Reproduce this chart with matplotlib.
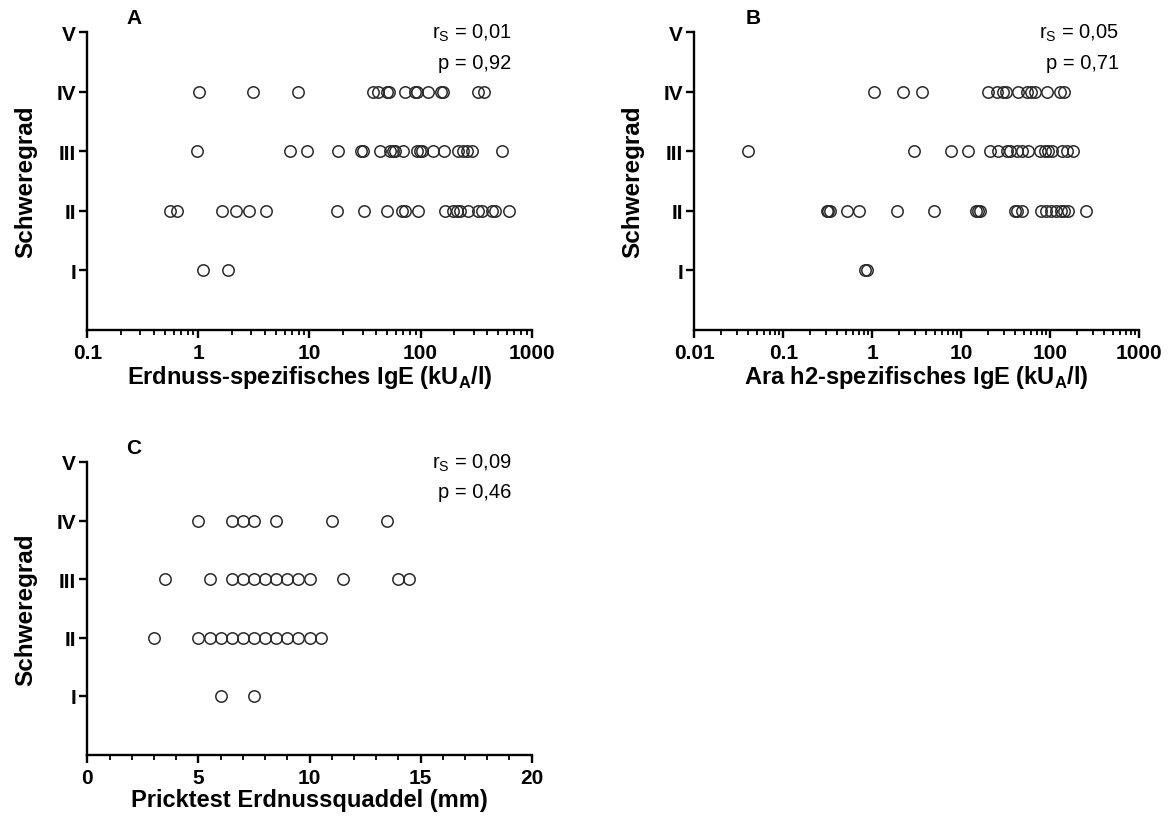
import matplotlib
matplotlib.use("Agg")
import matplotlib.pyplot as plt
from matplotlib.ticker import FixedLocator, LogLocator, NullFormatter, MultipleLocator

plt.rcParams['font.family'] = ['Liberation Sans', 'DejaVu Sans']
plt.rcParams['mathtext.fontset'] = 'custom'
plt.rcParams['mathtext.rm'] = 'Liberation Sans'
plt.rcParams['mathtext.bf'] = 'Liberation Sans:bold'

# ---------------- data ----------------
grade_labels = ['I', 'II', 'III', 'IV', 'V']
grade_pos = [1, 2, 3, 4, 5]

# Panel A: Erdnuss-spezifisches IgE (kU_A/l)
a_I = [1.1, 1.85]
a_II = [0.56, 0.64, 1.64, 2.18, 2.87, 4.1, 17.6, 31, 49.5, 67.6, 72.4, 95, 166, 197,
        211, 226, 269, 330, 355, 437, 468, 625]
a_III = [0.98, 6.7, 9.5, 18, 29, 30.5, 43, 53, 56, 59, 69, 93, 99, 104, 128, 163, 216,
         242, 262, 288, 537]
a_IV = [1.02, 3.1, 7.8, 37.5, 41.6, 49.5, 52.3, 72.4, 89, 93.5, 117, 153, 159, 330, 372]

# Panel B: Ara h2-spezifisches IgE (kU_A/l)
b_I = [0.82, 0.88]
b_II = [0.31, 0.32, 0.335, 0.52, 0.70, 1.91, 4.9, 14.6, 15.5, 16.2, 40.6, 42.8, 48.7,
        78.7, 89.5, 102, 117, 132, 143, 158, 252]
b_III = [0.040, 2.97, 7.7, 12, 21, 26, 32.4, 35.2, 41.9, 48.7, 56.6, 76.6, 87, 94, 104,
         135, 153, 181]
b_IV = [1.04, 2.24, 3.6, 19.7, 25.5, 29.2, 31.8, 43.4, 54.3, 60.7, 67.3, 91, 130, 141]

# Panel C: Pricktest Erdnussquaddel (mm)
c_I = [6, 7.5]
c_II = [3, 5, 5.5, 6, 6.5, 7, 7.5, 8, 8.5, 9, 9.5, 10, 10.5]
c_III = [3.5, 5.5, 6.5, 7, 7.5, 8, 8.5, 9, 9.5, 10, 11.5, 14, 14.5]
c_IV = [5, 6.5, 7, 7.5, 8.5, 11, 13.5]

a_stats = ['r$_\\mathrm{S}$ = 0,01', 'p = 0,92']
b_stats = ['r$_\\mathrm{S}$ = 0,05', 'p = 0,71']
c_stats = ['r$_\\mathrm{S}$ = 0,09', 'p = 0,46']

a_xticks = [0.1, 1, 10, 100, 1000]
a_xticklabels = ['0.1', '1', '10', '100', '1000']
b_xticks = [0.01, 0.1, 1, 10, 100, 1000]
b_xticklabels = ['0.01', '0.1', '1', '10', '100', '1000']
c_xticks = [0, 5, 10, 15, 20]
c_xticklabels = ['0', '5', '10', '15', '20']

a_xlabel = 'Erdnuss-spezifisches IgE (kU$_\\mathbf{A}$/l)'
b_xlabel = 'Ara h2-spezifisches IgE (kU$_\\mathbf{A}$/l)'
c_xlabel = 'Pricktest Erdnussquaddel (mm)'
ylabel = 'Schweregrad'

# ---------------- figure ----------------
W, H = 1170, 828
fig = plt.figure(figsize=(W / 100, H / 100), dpi=100)


def px_axes(x0, x1, ytop, ybot):
    return fig.add_axes([x0 / W, 1 - ybot / H, (x1 - x0) / W, (ybot - ytop) / H])


axA = px_axes(87.3, 531.7, 33.2, 330.5)
axB = px_axes(694.3, 1139.3, 33.2, 330.5)
axC = px_axes(87.3, 531.7, 463.0, 755.5)

mk = dict(linestyle='none', marker='o', markersize=8.2, markerfacecolor='none',
          markeredgecolor='#2a2a2a', markeredgewidth=1.1, clip_on=False)

panels = [
    (axA, [a_I, a_II, a_III, a_IV], 'A', a_stats, a_xticks, a_xticklabels, a_xlabel, True),
    (axB, [b_I, b_II, b_III, b_IV], 'B', b_stats, b_xticks, b_xticklabels, b_xlabel, True),
    (axC, [c_I, c_II, c_III, c_IV], 'C', c_stats, c_xticks, c_xticklabels, c_xlabel, False),
]

for ax, rows, letter, stats, xt, xtl, xl, logx in panels:
    for g, vals in zip(grade_pos, rows):
        ax.plot(vals, [g] * len(vals), **mk)
    if logx:
        ax.set_xscale('log')
        ax.set_xlim(xt[0], xt[-1])
        ax.xaxis.set_minor_locator(LogLocator(base=10, subs=range(2, 10), numticks=20))
        ax.xaxis.set_minor_formatter(NullFormatter())
    else:
        ax.set_xlim(xt[0], xt[-1])
        ax.xaxis.set_minor_locator(MultipleLocator(1))
    ax.xaxis.set_major_locator(FixedLocator(xt))
    ax.set_xticklabels(xtl)
    ax.set_ylim(0, 5)
    ax.set_yticks(grade_pos)
    ax.set_yticklabels(grade_labels)
    for s in ['top', 'right']:
        ax.spines[s].set_visible(False)
    for s in ['left', 'bottom']:
        ax.spines[s].set_linewidth(1.7)
        ax.spines[s].set_color('black')
    ax.tick_params(axis='x', which='major', direction='out', length=5.5, width=1.7,
                   labelsize=15, pad=4)
    ax.tick_params(axis='y', which='major', direction='out', length=5.5, width=1.7,
                   labelsize=15, pad=2.5)
    ax.tick_params(axis='x', which='minor', direction='out', length=3.5, width=1.3)
    ax.tick_params(axis='y', which='minor', left=False)
    for lab in ax.get_xticklabels() + ax.get_yticklabels():
        lab.set_fontweight('bold')
    ax.set_xlabel(xl, fontsize=17, fontweight='bold')
    axh = ax.get_position().height * H
    ax.xaxis.set_label_coords(0.5, -34.0 / axh)
    ax.set_ylabel(ylabel, fontsize=17.5, fontweight='bold')
    ax.yaxis.set_label_coords(-0.113, 0.5)
    ax.text(0.105 if letter != 'B' else 0.132, 1.05, letter, transform=ax.transAxes,
            fontsize=15, fontweight='bold', ha='center', va='center')
    ax.text(0.955, 1.0, stats[0], transform=ax.transAxes, fontsize=14.5,
            ha='right', va='center')
    ax.text(0.955, 0.899, stats[1], transform=ax.transAxes, fontsize=14.5,
            ha='right', va='center')

fig.savefig('out.png', dpi=100)
